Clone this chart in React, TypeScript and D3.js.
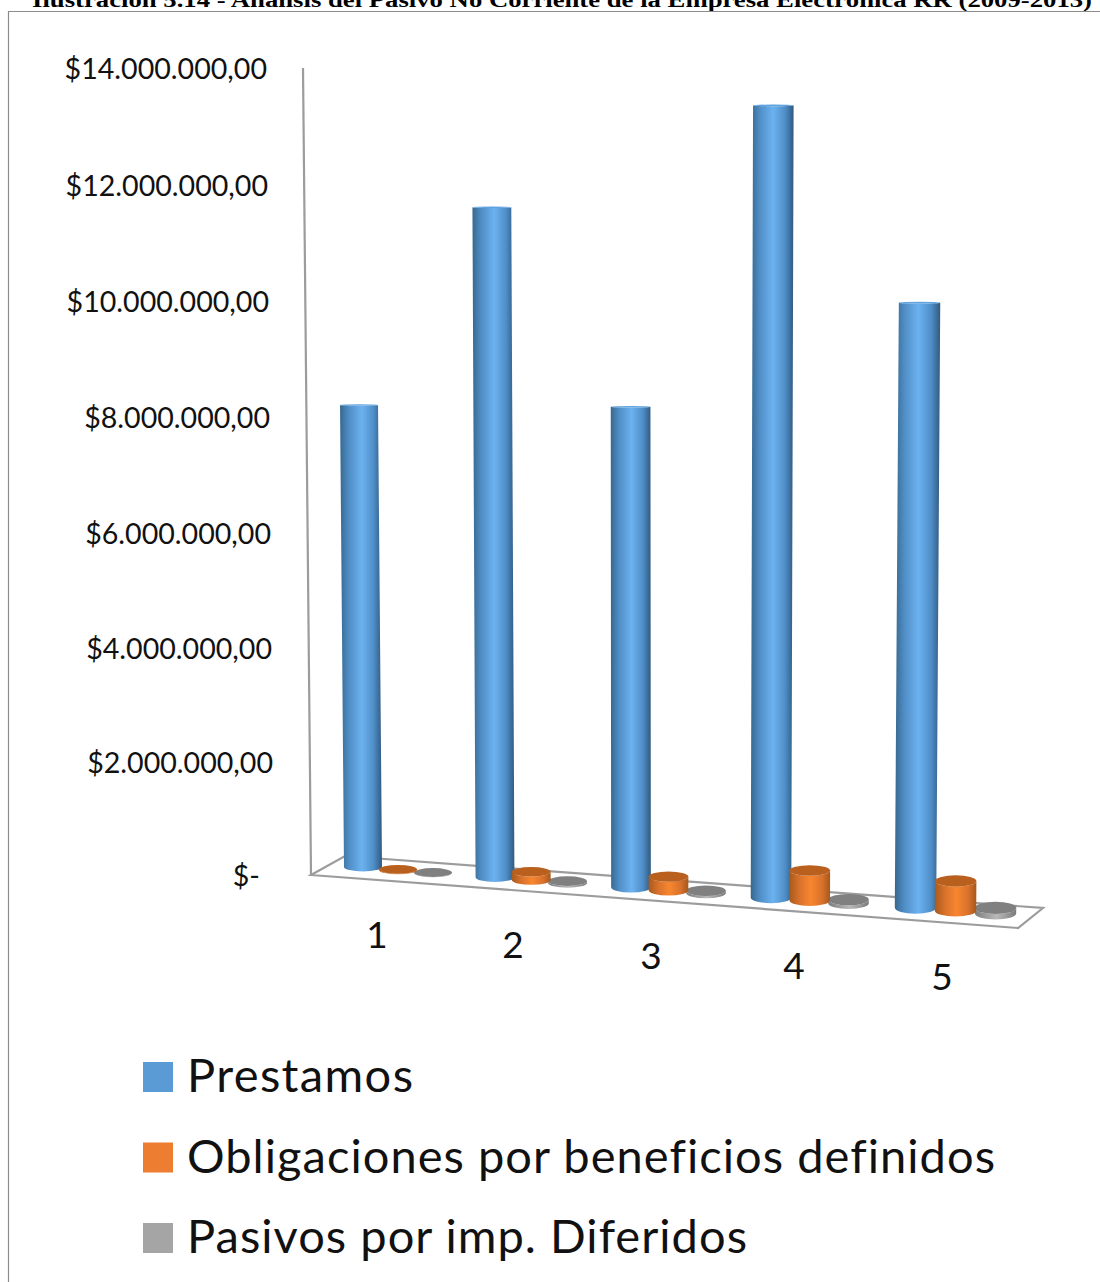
import React from 'react'
import * as d3 from 'd3'

const width = 1100
const height = 1282

const title = 'Ilustración 5.14 - Análisis del Pasivo No Corriente de la Empresa Electrónica RR (2009-2013)'
const categories = ['1', '2', '3', '4', '5']
const seriesNames = ['Prestamos', 'Obligaciones por beneficios definidos', 'Pasivos por imp. Diferidos']
const seriesColors = ['#5b9bd5', '#ed7d31', '#a5a5a5']
const legendWidths = [226, 808, 560]
const tickValues = [0, 2000000, 4000000, 6000000, 8000000, 10000000, 12000000, 14000000]
const tickLabels = ['$-', '$2.000.000,00', '$4.000.000,00', '$6.000.000,00', '$8.000.000,00', '$10.000.000,00', '$12.000.000,00', '$14.000.000,00']

// values
const prestamos = [7940000, 11420000, 8130000, 13300000, 10080000]
const obligaciones = [10000, 140000, 230000, 500000, 490000]
const pasivos = [5000, 30000, 40000, 60000, 90000]
const seriesValues = [prestamos, obligaciones, pasivos]

// the value axis is not quite linear, the picture is in perspective
const axisY = d3.scaleLinear().domain(tickValues).range([875, 762, 648, 533, 417, 301, 185, 68])
const axisX = d3.scaleLinear().domain([0, 14000000]).range([311, 303])
const labelRight = d3.scaleLinear().domain([2000000, 14000000]).range([273, 267])

const catIdx = categories.map((_, i) => i)
const baseX = d3.scaleLinear().domain(catIdx).range([363, 495, 631, 771, 915.5])
const baseY = d3.scaleLinear().domain([0, 4]).range([867, 907.5])
const labelX = d3.scaleLinear().domain(catIdx).range([377, 513, 651, 794, 942])
const labelY = d3.scaleLinear().domain([0, 4]).range([948, 989.5])
const radiusX = d3.scaleLinear().domain([0, 4]).range([19, 20.7])
const radiusY = d3.scaleLinear().domain([0, 4]).range([4.4, 6.2])
const seriesGap = d3.scaleLinear().domain([0, 4]).range([35, 40])
const pxPerValue = d3.scaleLinear().domain([0, 4]).range([58.2e-6, 60e-6])
const leanPerValue = d3.scaleLinear().domain([0, 4]).range([-0.5e-6, 0.4e-6])
const topFlatten = d3.scaleLinear().domain([0, 6000000]).range([1, 0.15]).clamp(true)

const legendY = d3.scaleLinear().domain([0, 2]).range([1092, 1253])

const floorFrontRight: [number, number] = [1018, 928]
const floorBackRight: [number, number] = [1043, 908]
const floorBackLeft: [number, number] = [345, 856]

const cylinderPath = (cat: number, serie: number, value: number) => {
  const cx = baseX(cat) + serie * seriesGap(cat)
  const cy = baseY(cat) + serie * 2.9
  const rx = radiusX(cat)
  const ry = radiusY(cat)
  const tx = cx + leanPerValue(cat) * value
  const ty = cy - pxPerValue(cat) * value
  const tr = ry * topFlatten(value)
  return {
    side: `M${cx - rx},${cy} A${rx},${ry} 0 0 0 ${cx + rx},${cy} L${tx + rx},${ty} A${rx},${tr} 0 0 1 ${tx - rx},${ty} Z`,
    top: { cx: tx, cy: ty, rx, ry: tr }
  }
}

const sideStops = [
  [['#36688f', 0], ['#4f8cc4', 0.2], ['#6cb2f0', 0.52], ['#4f8ec8', 0.8], ['#31597f', 1]],
  [['#a95a1c', 0], ['#d9722c', 0.25], ['#f8862f', 0.52], ['#d9722c', 0.8], ['#a5581b', 1]],
  [['#7c7c7c', 0], ['#a0a0a0', 0.3], ['#b8b8b8', 0.52], ['#9e9e9e', 0.75], ['#787878', 1]]
]
const topColors = ['#5fa3df', '#b9601f', '#808080']
const drawOrder = [0, 2, 1]

const App: React.FC = () => {
  const frameColor = '#9c9c9c'
  const axisFont = { fontFamily: 'Lato', fill: '#111' }
  const origin: [number, number] = [axisX(0), axisY(0)]

  return (
    <svg width={width} height={height} style={{ position: 'absolute', left: 0, top: 0, background: '#fff' }}>
      <defs>
        {sideStops.map((stops, i) => (
          <linearGradient key={i} id={`side-${i}`} x1="0" x2="1" y1="0" y2="0">
            {stops.map(([c, o]) => <stop key={String(o)} offset={Number(o)} stopColor={String(c)} />)}
          </linearGradient>
        ))}
      </defs>

      <text x={32} y={7} textLength={1060} lengthAdjust="spacingAndGlyphs" fontFamily="Liberation Serif" fontWeight="bold" fontSize={20} fill="#000">
        {title}
      </text>
      <path d={`M8.5,${height} V11.5 H${width}`} fill="none" stroke="#8c8c8c" strokeWidth={1.2} />

      {/* walls and floor */}
      <path d={`M${axisX(14000000)},${axisY(14000000)} L${origin}`} fill="none" stroke={frameColor} strokeWidth={2.2} />
      <path
        d={`M${origin} L${floorFrontRight} L${floorBackRight} L${floorBackLeft} Z`}
        fill="none"
        stroke={frameColor}
        strokeWidth={2.2}
      />

      {tickValues.map((v, i) => (
        <text
          key={v}
          x={v === 0 ? 260 : labelRight(v)}
          y={axisY(v) + 10.5}
          textAnchor="end"
          fontSize={28.6}
          {...axisFont}
        >
          {tickLabels[i]}
        </text>
      ))}

      {categories.map((c, cat) => (
        <g key={c}>
          {drawOrder.map((s) => {
            const { side, top } = cylinderPath(cat, s, seriesValues[s][cat])
            return (
              <g key={s}>
                <path d={side} fill={`url(#side-${s})`} />
                <ellipse {...top} fill={topColors[s]} />
              </g>
            )
          })}
          <text x={labelX(cat)} y={labelY(cat)} textAnchor="middle" fontSize={37} {...axisFont}>{c}</text>
        </g>
      ))}

      {seriesNames.map((name, i) => (
        <g key={name}>
          <rect x={143} y={legendY(i) - 30} width={30} height={30} fill={seriesColors[i]} />
          <text
            x={187}
            y={legendY(i)}
            fontSize={47}
            textLength={legendWidths[i]}
            lengthAdjust="spacing"
            style={{ fontVariantLigatures: 'none' }}
            {...axisFont}
          >
            {name}
          </text>
        </g>
      ))}
    </svg>
  )
}

export default App
